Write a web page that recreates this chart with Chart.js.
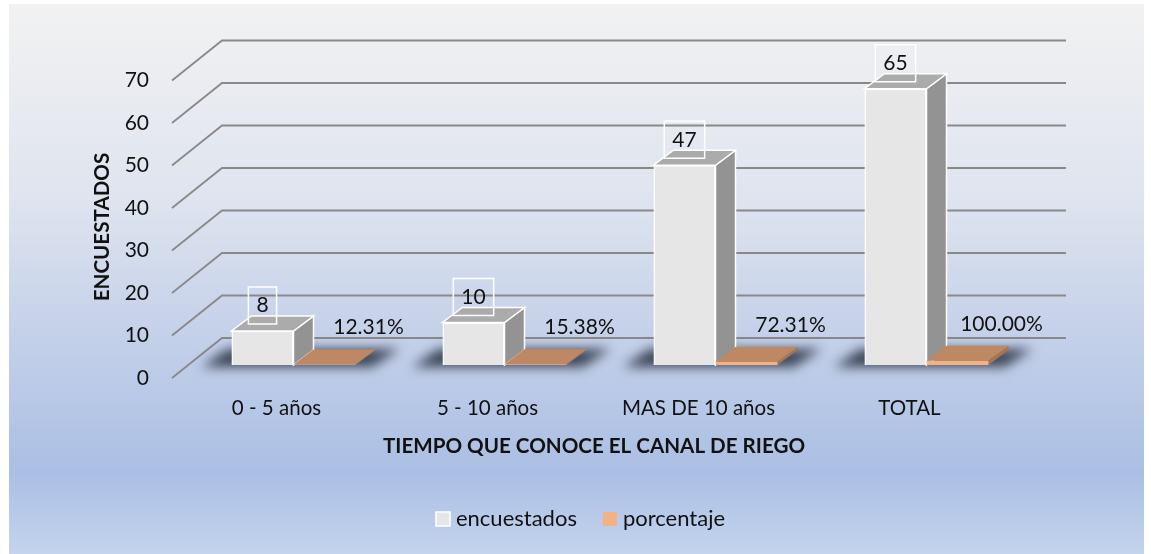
<!DOCTYPE html>
<html>
<head>
<meta charset="utf-8">
<script src="https://cdn.jsdelivr.net/npm/chart.js@4.4.1/dist/chart.umd.min.js"></script>
<style>
  html, body { margin: 0; padding: 0; background: #fff; }
</style>
</head>
<body>
<canvas id="chart" width="1151" height="554"></canvas>
<script>
const categories = ['0 - 5 años', '5 - 10 años', 'MAS DE 10 años', 'TOTAL'];
const encuestados = [8, 10, 47, 65];
const porcentaje = [0.1231, 0.1538, 0.7231, 1.0];
const yTicks = [0, 10, 20, 30, 40, 50, 60, 70];
const xTitle = 'TIEMPO QUE CONOCE EL CANAL DE RIEGO';
const yTitle = 'ENCUESTADOS';

const FONT = 'Lato';
const depth = { x: 20, y: -15 };   // bar depth
const wall = { x: 34, y: -27 };    // back wall, from the bar plane
const front = { x: -16, y: 13 };   // front edge of the floor

function poly(ctx, pts, fill, stroke) {
  ctx.beginPath();
  ctx.moveTo(pts[0][0], pts[0][1]);
  pts.slice(1).forEach(p => ctx.lineTo(p[0], p[1]));
  ctx.closePath();
  ctx.fillStyle = fill;
  ctx.fill();
  if (stroke) {
    ctx.strokeStyle = stroke;
    ctx.lineWidth = 1.5;
    ctx.stroke();
  }
}

// background, back wall lines, shadows and the 3d faces of the bars
const threeD = {
  id: 'threeD',
  beforeDraw(chart) {
    const ctx = chart.ctx;
    ctx.save();
    ctx.fillStyle = '#fff';
    ctx.fillRect(0, 0, chart.width, chart.height);
    const g = ctx.createLinearGradient(0, 4, 0, 554);
    g.addColorStop(0, '#f2f2f2');
    g.addColorStop(0.35, '#dfe4ef');
    g.addColorStop(0.65, '#bfcde8');
    g.addColorStop(0.85, '#abbfe4');
    g.addColorStop(1, '#c4d4ee');
    ctx.fillStyle = g;
    ctx.fillRect(9, 4, 1135, 550);
    ctx.restore();
  },
  beforeDatasetsDraw(chart) {
    const ctx = chart.ctx;
    const y = chart.scales.y;
    const { left, right } = chart.chartArea;
    ctx.save();
    ctx.strokeStyle = '#898989';
    ctx.lineWidth = 1.8;
    yTicks.forEach(v => {
      const py = y.getPixelForValue(v);
      ctx.beginPath();
      ctx.moveTo(left + front.x, py + front.y);
      ctx.lineTo(left + wall.x, py + wall.y);
      ctx.lineTo(right + wall.x, py + wall.y);
      ctx.stroke();
    });

    const m0 = chart.getDatasetMeta(0).data;
    const m1 = chart.getDatasetMeta(1).data;

    // shadows on the floor
    m0.forEach((bar, i) => {
      const a = bar.getProps(['x', 'width', 'base'], true);
      const b = m1[i].getProps(['x', 'width'], true);
      const L = a.x - a.width / 2, R = b.x + b.width / 2, B = a.base;
      ctx.save();
      ctx.filter = 'blur(6px)';
      poly(ctx, [[L - 30, B + 2], [R + 16, B + 2], [R + 44, B - 16], [L - 4, B - 16]], 'rgba(25,32,48,0.8)');
      ctx.restore();
    });

    // top and side faces
    [m0, m1].forEach((bars, d) => {
      bars.forEach(bar => {
        const p = bar.getProps(['x', 'y', 'width', 'base'], true);
        const L = p.x - p.width / 2, R = p.x + p.width / 2;
        const stroke = d === 0 ? '#ffffff' : null;
        poly(ctx, [[R, p.y], [R + depth.x, p.y + depth.y], [R + depth.x, p.base + depth.y], [R, p.base]],
          d === 0 ? '#939393' : '#a87552', stroke);
        poly(ctx, [[L, p.y], [R, p.y], [R + depth.x, p.y + depth.y], [L + depth.x, p.y + depth.y]],
          d === 0 ? '#ababab' : '#bd8863', stroke);
      });
    });
    ctx.restore();
  },
  afterDatasetsDraw(chart) {
    const ctx = chart.ctx;
    ctx.save();
    ctx.font = '21px ' + FONT;
    ctx.fillStyle = '#111';
    ctx.textAlign = 'center';
    ctx.textBaseline = 'middle';

    chart.getDatasetMeta(0).data.forEach((bar, i) => {
      const p = bar.getProps(['x', 'y'], true);
      const txt = String(encuestados[i]);
      const w = ctx.measureText(txt).width + 16;
      ctx.strokeStyle = '#fff';
      ctx.lineWidth = 1.5;
      ctx.strokeRect(p.x - w / 2, p.y - 44, w, 37);
      ctx.fillText(txt, p.x, p.y - 25.5);
    });
    chart.getDatasetMeta(1).data.forEach((bar, i) => {
      const p = bar.getProps(['x', 'y'], true);
      ctx.fillText((porcentaje[i] * 100).toFixed(2) + '%', p.x + 44, p.y - 37);
    });

    // axis titles
    const { left, right } = chart.chartArea;
    ctx.font = 'bold 20.6px ' + FONT;
    ctx.fillText(xTitle, (left + right) / 2 + front.x, 446);
    ctx.save();
    ctx.translate(102, 227);
    ctx.rotate(-Math.PI / 2);
    ctx.fillText(yTitle, 0, 0);
    ctx.restore();

    // legend
    ctx.font = '22px ' + FONT;
    ctx.textAlign = 'left';
    const items = chart.data.datasets.map(ds => ({
      text: ds.label, fill: ds.backgroundColor, stroke: ds.borderWidth ? ds.borderColor : null,
      w: 14 + 6 + ctx.measureText(ds.label).width
    }));
    const total = items.reduce((s, it) => s + it.w, 0) + 26 * (items.length - 1);
    let x = 580.5 - total / 2;
    items.forEach(it => {
      ctx.fillStyle = it.fill;
      ctx.fillRect(x, 512, 14, 14);
      if (it.stroke) {
        ctx.strokeStyle = it.stroke;
        ctx.lineWidth = 1.5;
        ctx.strokeRect(x, 512, 14, 14);
      }
      ctx.fillStyle = '#111';
      ctx.fillText(it.text, x + 20, 519);
      x += it.w + 26;
    });
    ctx.restore();
  }
};

new Chart(document.getElementById('chart'), {
  type: 'bar',
  data: {
    labels: categories,
    datasets: [
      {
        label: 'encuestados',
        data: encuestados,
        backgroundColor: '#e6e6e6',
        borderColor: '#ffffff',
        borderWidth: 1.5,
      },
      {
        label: 'porcentaje',
        data: porcentaje,
        backgroundColor: '#f4b183',
        borderWidth: 0,
      }
    ]
  },
  options: {
    responsive: false,
    animation: false,
    barPercentage: 1,
    categoryPercentage: 0.588,
    layout: { padding: { left: 10, top: 67.5, right: 119, bottom: 129 } },
    plugins: {
      legend: { display: false },
      tooltip: { enabled: false }
    },
    scales: {
      x: {
        grid: { display: false, drawTicks: false },
        border: { display: false },
        ticks: {
          font: { family: FONT, size: 20.5 },
          color: '#111',
          padding: 31,
          labelOffset: -17,
          maxRotation: 0
        },
        afterFit: (scale) => { scale.height = 60; }
      },
      y: {
        min: 0,
        max: 70,
        grid: { display: false, drawTicks: false },
        border: { display: false },
        ticks: {
          stepSize: 10,
          font: { family: FONT, size: 21 },
          color: '#111',
          padding: 39,
          labelOffset: 13
        },
        afterFit: (scale) => { scale.width = 178; }
      }
    }
  },
  plugins: [threeD]
});
</script>
</body>
</html>
